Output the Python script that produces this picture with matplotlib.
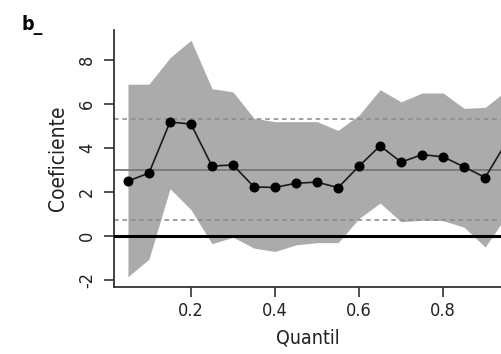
import matplotlib
matplotlib.use("Agg")
from matplotlib import pyplot as plt

# quantile regression coefficients with confidence band
quantis = [0.05, 0.10, 0.15, 0.20, 0.25, 0.30, 0.35, 0.40, 0.45, 0.50,
           0.55, 0.60, 0.65, 0.70, 0.75, 0.80, 0.85, 0.90, 0.95]
coef = [2.5, 2.86, 5.18, 5.09, 3.18, 3.23, 2.23, 2.21, 2.4, 2.45,
        2.2, 3.18, 4.1, 3.36, 3.7, 3.6, 3.14, 2.66, 4.25]
band_sup = [6.9, 6.9, 8.1, 8.9, 6.7, 6.55, 5.35, 5.2, 5.2, 5.2,
            4.8, 5.5, 6.65, 6.1, 6.5, 6.5, 5.8, 5.85, 6.6]
band_inf = [-1.85, -1.05, 2.15, 1.2, -0.35, -0.05, -0.55, -0.7, -0.4, -0.3,
            -0.3, 0.8, 1.5, 0.65, 0.72, 0.7, 0.4, -0.5, 0.9]

# OLS estimate and its interval
mqo = 3.0
mqo_inf = 0.73
mqo_sup = 5.3

yticks = [-2, 0, 2, 4, 6, 8]
xticks = [0.2, 0.4, 0.6, 0.8]

plt.rcParams['font.family'] = ['DejaVu Sans']
plt.rcParams['font.stretch'] = 'condensed'

fig = plt.figure(figsize=(5.02, 3.54), dpi=100)
ax = fig.add_axes([0.227, 0.189, 0.773, 0.726])

ax.fill_between(quantis, band_inf, band_sup, color='#ababab', lw=0, zorder=1)
ax.axhline(mqo, color='#777777', lw=1.3, zorder=2)
ax.axhline(mqo_inf, color='#888888', lw=1.1, ls=(0, (3, 2.5)), zorder=2)
ax.axhline(mqo_sup, color='#888888', lw=1.1, ls=(0, (3, 2.5)), zorder=2)
ax.axhline(0, color='black', lw=2.2, zorder=3)
ax.plot(quantis, coef, color='#1a1a1a', lw=1.2, marker='o', ms=6.2,
        mfc='black', mec='black', zorder=4)

ax.set_xlim(0.0167, 0.940)
ax.set_ylim(-2.32, 9.36)

for s in ['top', 'right']:
    ax.spines[s].set_visible(False)
for s in ['left', 'bottom']:
    ax.spines[s].set_color('#333333')
    ax.spines[s].set_linewidth(1.3)

ax.set_xticks(xticks)
ax.set_xticklabels(['0.2', '0.4', '0.6', '0.8'])
ax.set_yticks(yticks)
ax.set_yticklabels([str(v) for v in yticks], rotation=90, va='center')
ax.tick_params(axis='both', colors='#333333', labelcolor='#222222',
               labelsize=13, length=7, width=1.2)
ax.tick_params(axis='x', pad=4)
ax.tick_params(axis='y', pad=6)

ax.set_xlabel('Quantil', fontsize=14, color='#222222', labelpad=6)
ax.set_ylabel('Coeficiente', fontsize=15, color='#222222', labelpad=7)

fig.text(0.042, 0.93, 'b_', fontsize=14, fontweight='bold', ha='left', va='center')

fig.savefig('out.png', dpi=100)
